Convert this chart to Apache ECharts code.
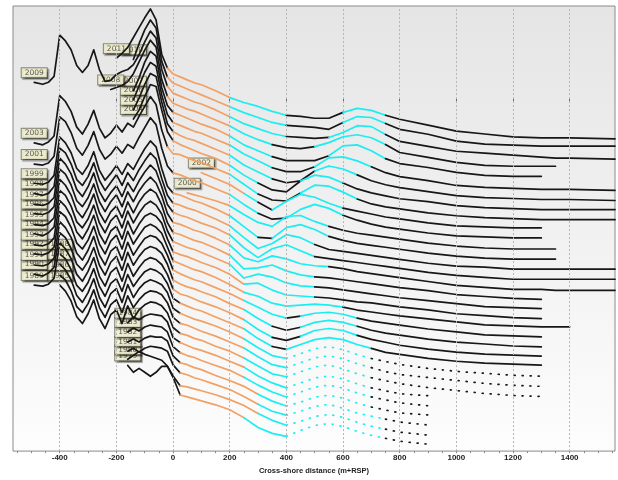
<!DOCTYPE html>
<html><head><meta charset="utf-8">
<script src="https://cdn.jsdelivr.net/npm/echarts@6/dist/echarts.min.js"></script>
<style>html,body{margin:0;padding:0;background:#fff}#c{width:618px;height:480px}</style>
</head><body><div id="c"></div>
<script>
const _ = null;
// cross-shore distance grid (m+RSP)
const X = [-490,-460,-440,-420,-400,-380,-360,-340,-320,-300,-280,-260,-240,-220,-200,-180,-160,-140,-120,-100,-80,-60,-40,-20,0,
  25,50,75,100,150,200,250,300,350,400,450,500,550,600,650,700,750,800,
  900,1000,1100,1200,1300,1350,1400,1560];
const YEARS = [2011,2010,2009,2008,2007,2006,2005,2004,2003,2002,2001,2000,1999,1998,1997,1996,1995,1994,1993,1992,1991,1990,1989,1988,1987,1986,1985,1984,1983,1982,1981,1980,1979];
const TICK_LABELS = [-400,-200,0,200,400,600,800,1000,1200,1400];

// relative elevation of each profile (chart units), one value per X
const Y2011 = [_,_,_,_,_,_,_,_,_,_,_,_,_,_,41,46,52,62,72,82,91,80,45,31,25,
  22,19,16,14,8,1,-4,-8,-13,-17,-18,-20,-20,-14,-10,-12,-17,-21,
  -27,-33,-36,-39,-40,-40,-40,-41];
const Y2010 = [_,_,_,_,_,_,_,_,_,_,_,_,_,_,_,_,_,50,66,80,90,82,48,32,26,
  23,20,17,14,8,2,-4,-9,-14,-17,-18,-19,-21,-14,-8,-9,-15,-21,
  -26,-33,-36,-37,-38,-38,-38,-38];
const Y2009 = [37,35,37,43,85,79,70,54,47,54,70,50,38,39,45,48,50,55,65,78,89,82,50,33,26,
  23,20,17,15,9,2,-5,-10,-15,-18,-19,-20,-19,-14,-7,-8,-16,-23,
  -28,-33,-35,-37,-39,-40,-40,-41];
const Y2008 = [_,_,_,_,_,_,_,_,_,_,_,_,_,40,42,44,48,56,68,80,90,83,50,33,26,
  23,20,18,15,9,3,-5,-11,-16,-19,-20,-18,-14,-8,-6,-9,-16,-24,
  -29,-34,-37,-38,-38,-38,_,_];
const Y2007 = [_,_,_,_,_,_,_,_,_,_,_,_,_,_,_,_,_,49,62,78,89,84,52,34,27,
  24,21,18,15,10,3,-6,-12,-18,-22,-22,-22,-17,-7,-6,-12,-20,-25,
  -29,-34,-37,-38,-38,_,_,_];
const Y2006 = [_,_,_,_,_,_,_,_,_,_,_,_,_,_,_,_,_,50,64,78,88,84,55,35,27,
  24,21,18,16,10,4,-5,-12,-19,-23,-23,-18,-9,-8,-12,-18,-24,-28,
  -32,-37,-39,-40,-41,-41,-41,-42];
const Y2005 = [_,_,_,_,_,_,_,_,_,_,_,_,_,_,_,_,_,50,62,76,87,84,58,36,28,
  24,21,19,16,10,4,-6,-13,-20,-24,-22,-12,-7,-10,-16,-22,-26,-29,
  -33,-37,-39,-40,-41,-41,-41,-42];
const Y2004 = [_,_,_,_,_,_,_,_,_,_,_,_,_,_,_,_,_,51,60,74,86,84,60,38,29,
  25,22,19,16,11,4,-6,-14,-21,-23,-12,-6,-8,-14,-20,-24,-27,-30,
  -33,-37,-39,-40,-41,-41,-41,-41];
const Y2003 = [37,35,38,44,85,79,69,53,46,56,70,52,42,47,55,48,57,53,64,74,84,76,50,33,26,
  25,22,19,17,11,5,-5,-15,-21,-22,-14,-6,-7,-13,-20,-25,-28,-30,
  -34,-37,-39,-40,-41,-41,-41,-41];
const Y2002 = [_,_,_,_,_,_,_,_,_,_,_,_,_,_,_,_,_,_,_,_,_,_,_,_,_,
  _,_,_,17,11,5,-4,-13,-21,-12,-5,-8,-14,-19,-22,-25,-28,-30,
  -34,-37,-38,-39,-39,_,_,_];
const Y2001 = [36,35,37,44,84,79,68,52,45,55,69,51,41,46,54,47,56,52,63,73,83,76,52,34,27,
  25,22,19,17,11,5,-5,-14,-20,-19,-10,-5,-9,-16,-21,-25,-28,-30,
  -34,-37,-38,-39,-39,_,_,_];
const Y2000 = [_,_,_,_,_,_,_,_,_,_,_,_,_,_,_,_,_,_,_,_,_,_,_,_,_,
  _,17,15,13,9,4,-5,-13,-17,-7,-6,-12,-17,-21,-24,-26,-28,-30,
  -34,-37,-39,-40,-40,-40,_,_];
const Y1999 = [37,36,38,45,84,78,68,52,46,55,69,50,40,47,55,46,57,51,62,72,80,74,52,34,27,
  25,22,19,17,11,4,-7,-18,-19,-8,-5,-10,-17,-21,-24,-26,-28,-30,
  -34,-37,-39,-40,-40,-40,_,_];
const Y1998 = [37,35,37,44,83,78,67,51,45,54,68,50,40,48,56,45,58,50,61,70,78,72,52,35,27,
  25,22,20,17,11,4,-8,-19,-14,-5,-8,-15,-20,-22,-24,-26,-28,-30,
  -34,-37,-38,-40,-40,-40,-40,-40];
const Y1997 = [36,35,37,43,83,77,67,51,44,54,68,49,39,48,55,44,58,49,60,69,76,70,54,36,28,
  25,23,20,17,12,5,-8,-18,-9,-5,-11,-17,-19,-21,-23,-25,-27,-29,
  -33,-36,-38,-40,-40,-40,-40,-40];
const Y1996 = [37,36,38,44,82,77,66,50,44,53,67,49,39,49,56,44,59,49,60,68,74,68,55,37,28,
  26,23,20,18,12,5,-8,-12,-6,-9,-14,-16,-17,-19,-22,-24,-26,-28,
  -32,-36,-38,-40,-40,-41,-41,-41];
const Y1995 = [36,35,37,43,82,76,66,50,43,53,67,48,38,49,55,43,59,48,59,67,72,68,56,38,28,
  26,23,20,18,12,5,-9,-8,-5,-11,-15,-17,-18,-20,-22,-24,-26,-28,
  -31,-35,-37,-39,-40,_,_,_];
const Y1994 = [37,35,38,44,81,76,65,49,43,52,66,48,38,50,56,43,60,48,58,66,70,66,57,40,29,
  26,23,21,18,12,6,-8,-4,-7,-13,-16,-17,-18,-20,-22,-24,-26,-28,
  -31,-34,-37,-38,-39,_,_,_];
const Y1993 = [36,35,37,43,81,75,65,49,42,52,66,47,37,50,55,42,60,47,57,65,68,65,58,42,29,
  26,24,21,18,13,6,-4,-3,-10,-15,-16,-17,-18,-20,-22,-23,-25,-27,
  -30,-34,-36,-38,-39,_,_,_];
const Y1992 = [37,36,38,44,80,75,64,48,42,51,65,47,37,50,56,42,60,47,56,64,67,64,58,44,30,
  27,24,21,19,13,6,-2,-6,-13,-16,-15,-14,-15,-17,-20,-22,-24,-26,
  -29,-32,-35,-36,-37,-37,-37,_];
const Y1991 = [36,35,37,43,80,74,64,48,41,51,65,46,36,50,55,41,59,46,55,63,66,64,58,46,31,
  27,24,21,19,13,7,0,-7,-14,-18,-16,-13,-12,-14,-18,-21,-23,-25,
  -29,-32,-35,-36,-37,_,_,_];
const Y1990 = [37,35,38,44,79,74,63,47,41,50,64,46,36,49,55,41,59,46,55,62,65,63,58,47,31,
  27,24,22,19,14,7,1,-8,-16,-20,-17,-12,-10,-12,-16,-20,-23,-25,
  -29,-32,-34,-36,-37,_,_,_];
const Y1989 = [36,35,37,43,79,73,63,47,40,50,64,45,35,49,54,40,58,45,54,61,64,62,57,47,32,
  27,25,22,19,14,8,1,-9,-17,-20,-16,-10,-8,-10,-15,-19,-22,-25,
  -29,-32,-34,-35,-36,_,_,_];
const Y1988 = [_,_,_,_,78,73,62,46,40,49,63,45,35,48,53,40,57,45,53,60,63,61,57,48,33,
  28,25,22,20,14,8,2,-8,-16,-19,-14,-9,-7,-9,-14,-18,-22,-24,
  -28,-31,-33,-34,-35,_,_,_];
const Y1987 = [_,_,_,_,78,72,62,46,39,49,63,44,34,48,53,39,57,44,53,59,62,60,57,49,33,
  28,25,22,20,15,9,2,-7,-15,-18,-13,-8,-6,-9,-14,-18,-21,-24,
  -28,-31,-33,-35,-36,_,_,_];
const Y1986 = [_,_,_,_,77,72,61,45,39,48,62,44,34,47,52,39,56,44,52,58,61,60,57,49,34,
  28,26,23,20,15,9,3,-6,-14,-17,-12,-7,-5,-8,-13,-17,-21,-24,
  -27,-30,-33,-35,-36,_,_,_];
const Y1985 = [_,_,_,_,77,71,61,45,38,48,62,43,33,47,52,38,56,43,52,57,60,59,56,49,34,
  28,26,23,21,15,10,3,-5,-13,-16,-11,-6,-4,-8,-13,-17,-20,-23,
  -27,-30,-33,-35,-36,_,_,_];
const Y1984 = [_,_,_,_,_,_,_,_,_,_,_,_,_,_,_,_,49,55,52,56,58,57,56,50,34,
  29,26,23,21,16,10,4,-5,-12,-17,-12,-7,-5,-8,-13,-17,-20,-23,
  -25,_,_,_,_,_,_,_];
const Y1983 = [_,_,_,_,_,_,_,_,_,_,_,_,_,_,_,_,50,54,51,55,57,56,55,50,35,
  29,26,24,21,16,11,4,-4,-11,-16,-11,-6,-4,-7,-12,-16,-19,-22,
  -25,_,_,_,_,_,_,_];
const Y1982 = [_,_,_,_,_,_,_,_,_,_,_,_,_,_,_,_,50,53,50,54,56,55,55,51,36,
  29,27,24,22,16,11,5,-3,-10,-15,-11,-6,-4,-7,-12,-16,-19,-22,
  -24,_,_,_,_,_,_,_];
const Y1981 = [_,_,_,_,_,_,_,_,_,_,_,_,_,_,_,_,51,54,50,54,56,55,54,51,37,
  29,27,24,22,17,12,5,-3,-10,-14,-10,-5,-3,-7,-12,-15,-18,-21,
  -24,_,_,_,_,_,_,_];
const Y1980 = [_,_,_,_,_,_,_,_,_,_,_,_,_,_,_,_,53,57,61,58,56,54,52,46,36,
  26,25,23,21,17,12,6,-2,-9,-14,-10,-5,-3,-6,-11,-15,-18,-21,
  -24,_,_,_,_,_,_,_];
const Y1979 = [_,_,_,_,_,_,_,_,_,_,_,_,_,_,_,_,57,50,54,50,46,50,56,56,45,
  27,25,23,21,17,12,4,-6,-12,-15,-9,-4,-2,-5,-10,-14,-17,-20,
  -23,_,_,_,_,_,_,_];

const PROFILES = [Y2011,Y2010,Y2009,Y2008,Y2007,Y2006,Y2005,Y2004,Y2003,Y2002,Y2001,Y2000,Y1999,Y1998,Y1997,Y1996,Y1995,Y1994,Y1993,Y1992,Y1991,Y1990,Y1989,Y1988,Y1987,Y1986,Y1985,Y1984,Y1983,Y1982,Y1981,Y1980,Y1979];
// sparse (dotted) survey from this distance on
const DOT_START = [_,_,_,_,_,_,_,_,_,_,_,_,_,_,_,_,_,_,_,_,_,_,_,_,400,400,400,400,400,400,400,400,400];

const SHIFT = 10.25;
const COL = {k:'#171717', o:'#f2a064', c:'#1beef2'};
function band(e){ return e > 30 ? 'k' : e > 0 ? 'o' : e > -17 ? 'c' : 'k'; }

const chart = echarts.init(document.getElementById('c'), null, {renderer:'canvas'});

const series = [];
series.push({type:'line', data:[[0,-1000]], showSymbol:false, silent:true, z:0,
  markLine:{silent:true, symbol:'none', label:{show:false}, animation:false,
    lineStyle:{color:'#b5b5b5', type:[2,2], width:1},
    data: TICK_LABELS.map(v=>({xAxis:v}))}});

const runs = [];
PROFILES.forEach((E,k)=>{
  const off = -SHIFT*k, ds = DOT_START[k];
  let cur = null;
  for(let i=0;i<X.length-1;i++){
    if(E[i]==null||E[i+1]==null){cur=null;continue;}
    const col = band((E[i]+E[i+1])/2);
    const dot = ds!=null && X[i]>=ds;
    const key = col+(dot?'d':'s');
    if(cur && cur.key===key){ cur.pts.push([X[i+1],E[i+1]+off]); }
    else { cur={key,col,dot,pts:[[X[i],E[i]+off],[X[i+1],E[i+1]+off]]}; runs.push(cur); }
  }
});
runs.forEach(r=>{
  series.push({type:'line', data:r.pts, symbol:'none', showSymbol:false, silent:true, z:3,
    lineStyle:{color:COL[r.col], width:1.7, type:r.dot?[1,7]:'solid', cap:'round', join:'round'}});
});

const labelData = [];
for(let k=PROFILES.length-1;k>=0;k--){
  const E = PROFILES[k]; const i = E.findIndex(v=>v!=null);
  labelData.push([X[i], E[i]-SHIFT*k, YEARS[k]]);
}
series.push({type:'scatter', data:labelData, symbolSize:0.1, silent:true, z:2,
  itemStyle:{color:'rgba(0,0,0,0)'},
  label:{show:true, position:'top', distance:5, formatter:p=>String(p.value[2]),
    fontFamily:'DejaVu Sans', fontSize:7.5, color:'#3a3030', lineHeight:9,
    backgroundColor:'#ffffdc', borderColor:'#6e6e5a', borderWidth:1, padding:[0,3,0,3],
    shadowColor:'rgba(0,0,0,0.45)', shadowOffsetX:1.5, shadowOffsetY:1.5, shadowBlur:1}});

const minor = []; for(let v=-550; v<=1550; v+=50) minor.push(v);

chart.setOption({
  animation:false,
  backgroundColor:'#ffffff',
  grid:{left:13, right:3, top:6, bottom:22, show:true, borderColor:'#8a8a8a', borderWidth:1,
    backgroundColor: new echarts.graphic.LinearGradient(0,0,0,1,[{offset:0,color:'#e5e5e5'},{offset:1,color:'#fdfdfd'}])},
  xAxis:[{type:'value', min:-565, max:1560, position:'bottom',
      axisLine:{show:false}, splitLine:{show:false},
      axisTick:{show:true, customValues:TICK_LABELS, length:3, lineStyle:{color:'#666'}},
      axisLabel:{customValues:TICK_LABELS, formatter:v=>String(v), fontSize:8, fontWeight:'bold', color:'#222', margin:3, fontFamily:'Liberation Sans'},
      name:'Cross-shore distance (m+RSP)', nameLocation:'middle', nameGap:14,
      nameTextStyle:{fontSize:7.5, fontWeight:'bold', color:'#222', fontFamily:'Liberation Sans'}},
    {type:'value', min:-565, max:1560, position:'bottom',
      axisLine:{show:false}, splitLine:{show:false},
      axisTick:{show:true, customValues:minor, length:2, lineStyle:{color:'#888'}},
      axisLabel:{show:false}}],
  yAxis:{type:'value', min:-358, max:94, show:false},
  series
});
</script></body></html>
